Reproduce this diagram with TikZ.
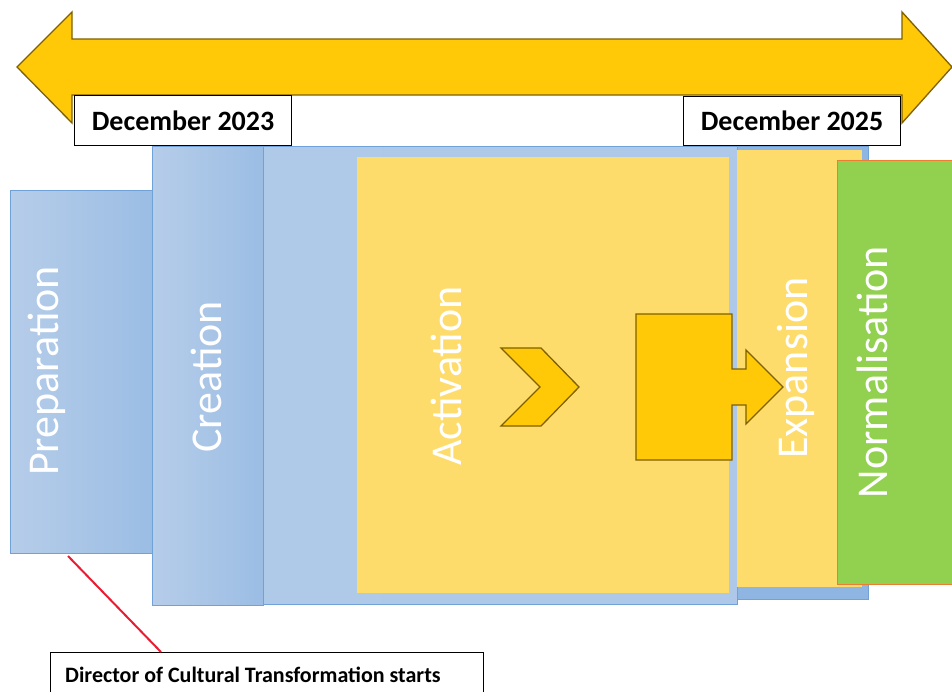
\documentclass[tikz,border=0pt]{standalone}
\usepackage{fontspec}
\setmainfont{Carlito}
\definecolor{arrowfill}{RGB}{255,201,8}
\definecolor{arrowline}{RGB}{127,96,0}
\definecolor{actfill}{RGB}{254,220,108}
\definecolor{bluelight}{RGB}{182,205,233}
\definecolor{bluedark}{RGB}{155,189,228}
\definecolor{bigblue}{RGB}{175,201,232}
\definecolor{blueline}{RGB}{112,162,216}
\definecolor{expblue}{RGB}{143,181,227}
\definecolor{greenfill}{RGB}{146,208,80}
\definecolor{greenline}{RGB}{237,125,49}
\definecolor{redline}{RGB}{232,28,50}
\tikzset{
  phasebox/.style={draw=blueline, line width=0.8pt, inner sep=0pt, anchor=north west,
    left color=bluelight, right color=bluedark},
  plainbox/.style={inner sep=0pt, anchor=north west},
  phaselabel/.style={rotate=90, text=white, inner sep=0pt, font=\fontsize{44}{44}\selectfont},
  datebox/.style={draw=black, line width=1.2pt, fill=white, inner sep=0pt, anchor=north west,
    font=\fontsize{28}{28}\selectfont\bfseries},
  yellowshape/.style={fill=arrowfill, draw=arrowline, line width=1.3pt, line join=miter}
}
\begin{document}
\begin{tikzpicture}[x=1pt,y=-1pt]
\useasboundingbox (0,0) rectangle (952,691);
% timeline double arrow
\path[yellowshape] (17,67) -- (72,12) -- (72,39) -- (902,39) -- (902,12) -- (952,67)
  -- (902,123) -- (902,95) -- (72,95) -- (72,123) -- cycle;
% phases
\node[phasebox, minimum width=142pt, minimum height=363pt] (prep) at (10,190) {};
\node[phasebox, minimum width=111pt, minimum height=459pt] (crea) at (152,146) {};
\node[plainbox, fill=expblue, draw=blueline, line width=0.6pt, minimum width=135pt, minimum height=453pt] (expout) at (733,146) {};
\node[plainbox, draw=blueline, line width=0.8pt, left color=bigblue, right color=bigblue!90!bluedark, minimum width=474pt, minimum height=458pt] (actout) at (263,146) {};
\node[plainbox, fill=actfill, minimum width=372pt, minimum height=436pt] (act) at (357,157) {};
\node[plainbox, fill=actfill, minimum width=125pt, minimum height=437pt] (exp) at (737,150) {};
\node[plainbox, fill=greenfill, draw=greenline, line width=1pt, minimum width=130pt, minimum height=424pt] (norm) at (837,160) {};
% labels
\node[phaselabel] (lprep) at (47,371) {Preparation};
\node[phaselabel] (lcrea) at (206,377) {Creation};
\node[phaselabel] (lact) at (446,376) {Activation};
\node[phaselabel] (lexp) at (796,368) {Expansion};
\node[phaselabel] (lnorm) at (872,372) {Normalisation};
% chevron and callout arrow
\path[yellowshape] (501,348) -- (541,348) -- (579,387) -- (541,426) -- (501,426) -- (540,387) -- cycle;
\path[yellowshape] (636,314) -- (732,314) -- (732,369) -- (746,369) -- (746,350) -- (783,387)
  -- (746,424) -- (746,405) -- (732,405) -- (732,460) -- (636,460) -- cycle;
% date boxes
\node[datebox, minimum width=217pt, minimum height=50pt] (d23) at (74,95) {December 2023};
\node[datebox, minimum width=217pt, minimum height=49pt] (d25) at (683,96) {December 2025};
% director note
\node[draw=black, line width=1.2pt, fill=white, inner sep=0pt, anchor=north west,
  minimum width=433pt, minimum height=60pt] (dir) at (50,652) {};
\node[anchor=west, inner sep=0pt, font=\fontsize{22}{22}\selectfont\bfseries] (dirtext) at (65,675)
  {Director of Cultural Transformation starts};
\coordinate (lstart) at (68,556);
\draw[redline, line width=2pt] (lstart) -- (dir.north west -| 161,0) ++(0,-4);
\end{tikzpicture}
\end{document}
